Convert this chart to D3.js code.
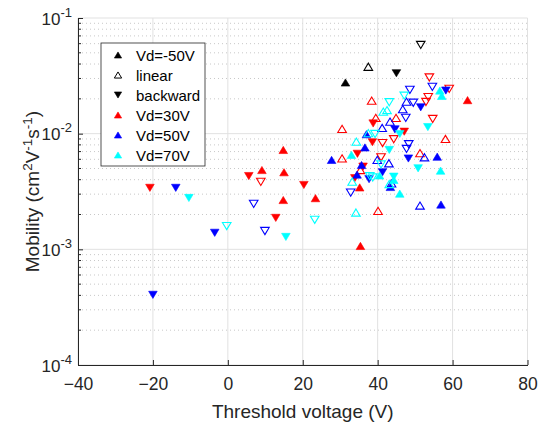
<!DOCTYPE html>
<html>
<head>
<meta charset="utf-8">
<script src="https://cdn.jsdelivr.net/npm/d3@7"></script>
<style>
  body { margin: 0; background: #fff; }
  svg { font-family: "Liberation Sans", Arial, Helvetica, sans-serif; }
</style>
</head>
<body>
<svg width="548" height="423"></svg>
<script>
"use strict";

// [threshold voltage (V), mobility (cm2/Vs)]
// fwd = filled up, lin = hollow up, bwd = filled down, linb = hollow down
const blackFwd  = [[31.4, 0.0277]];
const blackLin  = [[37.5, 0.0379]];
const blackBwd  = [[45.0, 0.0333]];
const blackLinb = [[51.5, 0.0585]];

const redFwd = [[9.1, 0.00485], [14.8, 0.00723], [15.0, 0.00464], [14.8, 0.00267],
  [23.4, 0.00277], [35.2, 0.00343], [35.4, 0.00107], [64.0, 0.0195]];
const redLin = [[30.5, 0.0110], [38.4, 0.0193], [39.5, 0.0137], [30.5, 0.00612], [35.4, 0.00485],
  [44.9, 0.0137], [51.3, 0.00678], [58.1, 0.0090], [40.1, 0.00215]];
const redBwd = [[-20.8, 0.0034], [5.6, 0.0043], [12.8, 0.00187], [20.3, 0.0036], [38.8, 0.01225],
  [38.6, 0.00843], [34.6, 0.0067], [36.1, 0.00519], [33.9, 0.00412], [47.1, 0.0104]];
const redLinb = [[8.8, 0.00383], [41.3, 0.0083], [44.3, 0.00895], [40.9, 0.00625], [53.8, 0.0306],
  [59.1, 0.0244], [53.5, 0.0207], [52.9, 0.0188], [54.7, 0.0134]];

const blueFwd = [[27.7, 0.00593], [37.0, 0.00989], [36.6, 0.0076], [35.7, 0.00536], [34.5, 0.00443],
  [43.4, 0.00346], [55.9, 0.00632], [56.9, 0.00244]];
const blueLin = [[41.2, 0.0112], [47.7, 0.0189], [46.7, 0.0163], [43.3, 0.0127], [39.9, 0.00593],
  [43.0, 0.00555], [52.5, 0.00625], [43.7, 0.00372], [51.3, 0.00239]];
const blueBwd = [[-13.9, 0.0034], [-3.5, 0.00139], [-20.0, 0.000404], [44.6, 0.0109], [51.5, 0.0169],
  [58.2, 0.0236], [48.2, 0.0061], [41.3, 0.00464], [37.7, 0.00404]];
const blueLinb = [[6.9, 0.00247], [9.9, 0.00144], [48.6, 0.0239], [54.6, 0.0254], [49.5, 0.0185],
  [47.5, 0.0137], [48.3, 0.0081], [47.7, 0.00738], [32.8, 0.00309]];

const cyanFwd = [[33.0, 0.00655], [56.6, 0.0236], [57.1, 0.0212], [56.8, 0.00479], [40.5, 0.00435],
  [44.3, 0.00398], [45.9, 0.00303]];
const cyanLin = [[34.3, 0.00853], [41.5, 0.0155], [42.5, 0.0160], [37.5, 0.0101], [33.2, 0.00385],
  [34.2, 0.00208], [43.1, 0.00367]];
const cyanBwd = [[-10.4, 0.00278], [15.5, 0.00128], [43.1, 0.00723], [45.9, 0.00993], [53.4, 0.0114],
  [50.8, 0.00502], [44.3, 0.00425]];
const cyanLinb = [[-0.3, 0.00159], [23.2, 0.0018], [43.1, 0.0187], [47.1, 0.0213], [39.3, 0.00993],
  [40.9, 0.00542], [37.9, 0.0043], [38.7, 0.00418]];

const xTicks = [-40, -20, 0, 20, 40, 60, 80];
const yExponents = [-4, -3, -2, -1];
const legendLabels = ["Vd=-50V", "linear", "backward", "Vd=30V", "Vd=50V", "Vd=70V"];

const BLACK = "#000000", RED = "#ff0000", BLUE = "#0000ff", CYAN = "#00ffff";
const axisColor = "#262626";

const series = [
  {data: blackFwd, color: BLACK, dir: "up", filled: true},
  {data: blackLin, color: BLACK, dir: "up", filled: false},
  {data: blackBwd, color: BLACK, dir: "down", filled: true},
  {data: blackLinb, color: BLACK, dir: "down", filled: false},
  {data: redFwd, color: RED, dir: "up", filled: true},
  {data: redLin, color: RED, dir: "up", filled: false},
  {data: redBwd, color: RED, dir: "down", filled: true},
  {data: redLinb, color: RED, dir: "down", filled: false},
  {data: blueFwd, color: BLUE, dir: "up", filled: true},
  {data: blueLin, color: BLUE, dir: "up", filled: false},
  {data: blueBwd, color: BLUE, dir: "down", filled: true},
  {data: blueLinb, color: BLUE, dir: "down", filled: false},
  {data: cyanFwd, color: CYAN, dir: "up", filled: true},
  {data: cyanLin, color: CYAN, dir: "up", filled: false},
  {data: cyanBwd, color: CYAN, dir: "down", filled: true},
  {data: cyanLinb, color: CYAN, dir: "down", filled: false}
];

const legendItems = [
  {color: BLACK, dir: "up", filled: true},
  {color: BLACK, dir: "up", filled: false},
  {color: BLACK, dir: "down", filled: true},
  {color: RED, dir: "up", filled: true},
  {color: BLUE, dir: "up", filled: true},
  {color: CYAN, dir: "up", filled: true}
];

const svg = d3.select("svg");

const mLeft = 78, mRight = 527.5, mTop = 18, mBottom = 365;

const x = d3.scaleLinear().domain([-40, 80]).range([mLeft, mRight]);
const y = d3.scaleLog().domain([1e-4, 1e-1]).range([mBottom, mTop]);

function tri(dir, s) {
  const w = 4.3 * s, h = 7.2 * s;
  return dir === "up"
    ? `M0,${-h / 2}L${w},${h / 2}L${-w},${h / 2}Z`
    : `M0,${h / 2}L${w},${-h / 2}L${-w},${-h / 2}Z`;
}

// minor grid (dotted)
const minorVals = [];
yExponents.slice(0, 3).forEach(e => {
  for (let m = 2; m <= 9; m++) minorVals.push(m * Math.pow(10, e));
});

svg.append("g").selectAll("line")
  .data(minorVals)
  .join("line")
  .attr("x1", mLeft).attr("x2", mRight)
  .attr("y1", d => y(d)).attr("y2", d => y(d))
  .attr("stroke", "#c8c8c8")
  .attr("stroke-width", 1)
  .attr("stroke-dasharray", "1,3");

// major grid
svg.append("g").selectAll("line")
  .data(xTicks)
  .join("line")
  .attr("x1", d => x(d)).attr("x2", d => x(d))
  .attr("y1", mTop).attr("y2", mBottom)
  .attr("stroke", "#e1e1e1");

svg.append("g").selectAll("line")
  .data(yExponents)
  .join("line")
  .attr("x1", mLeft).attr("x2", mRight)
  .attr("y1", d => y(Math.pow(10, d))).attr("y2", d => y(Math.pow(10, d)))
  .attr("stroke", "#e1e1e1");

// x axis
const xAxis = svg.append("g")
  .attr("transform", `translate(0,${mBottom})`)
  .call(d3.axisBottom(x).tickValues(xTicks).tickSizeInner(-5).tickSizeOuter(0).tickPadding(13));
xAxis.select(".domain").attr("stroke", axisColor);
xAxis.selectAll(".tick line").attr("stroke", axisColor);
xAxis.selectAll(".tick text")
  .attr("fill", axisColor)
  .style("font-size", "17.5px")
  .style("font-family", "Liberation Sans, Arial, sans-serif");

// y axis
const yAxis = svg.append("g")
  .attr("transform", `translate(${mLeft},0)`)
  .call(d3.axisLeft(y).tickValues(yExponents.map(e => Math.pow(10, e)))
    .tickSizeInner(-5).tickSizeOuter(0).tickPadding(6).tickFormat(""));
yAxis.select(".domain").attr("stroke", axisColor);
yAxis.selectAll(".tick line").attr("stroke", axisColor);

yAxis.selectAll(".tick text").remove();
yAxis.selectAll(".tick")
  .append("text")
  .attr("x", -6)
  .attr("y", 6)
  .attr("text-anchor", "end")
  .attr("fill", axisColor)
  .style("font-size", "17px")
  .style("font-family", "Liberation Sans, Arial, sans-serif")
  .each(function (d) {
    const t = d3.select(this);
    t.append("tspan").text("10");
    t.append("tspan").attr("dy", -8).style("font-size", "13px").text(String(Math.round(Math.log10(d))));
  });

// y minor ticks
svg.append("g").selectAll("line")
  .data(minorVals)
  .join("line")
  .attr("x1", mLeft).attr("x2", mLeft + 3)
  .attr("y1", d => y(d)).attr("y2", d => y(d))
  .attr("stroke", axisColor);

// axis labels
svg.append("text")
  .attr("x", (mLeft + mRight) / 2)
  .attr("y", 418)
  .attr("text-anchor", "middle")
  .attr("fill", axisColor)
  .style("font-size", "19px")
  .text("Threshold voltage (V)");

const yl = svg.append("text")
  .attr("transform", `translate(39,${(mTop + mBottom) / 2}) rotate(-90)`)
  .attr("text-anchor", "middle")
  .attr("fill", axisColor)
  .style("font-size", "19px");
yl.append("tspan").text("Mobility (cm");
yl.append("tspan").attr("dy", -7).style("font-size", "13.5px").text("2");
yl.append("tspan").attr("dy", 7).text("V");
yl.append("tspan").attr("dy", -7).style("font-size", "13.5px").text("-1");
yl.append("tspan").attr("dy", 7).text("s");
yl.append("tspan").attr("dy", -7).style("font-size", "13.5px").text("-1");
yl.append("tspan").attr("dy", 7).text(")");

// data markers
const marks = svg.append("g");
series.forEach(s => {
  marks.append("g").selectAll("path")
    .data(s.data)
    .join("path")
    .attr("transform", d => `translate(${x(d[0])},${y(d[1])})`)
    .attr("d", tri(s.dir, 1))
    .attr("fill", s.filled ? s.color : "none")
    .attr("stroke", s.color)
    .attr("stroke-width", s.filled ? 0.6 : 1.1);
});

// legend
const lg = svg.append("g").attr("transform", "translate(101,43)");
lg.append("rect")
  .attr("width", 104).attr("height", 123)
  .attr("fill", "#fff")
  .attr("stroke", axisColor)
  .attr("stroke-width", 0.8);

const items = lg.selectAll("g.item")
  .data(legendItems)
  .join("g")
  .attr("class", "item")
  .attr("transform", (d, i) => `translate(0,${12 + i * 20})`);

items.append("path")
  .attr("transform", "translate(17,0)")
  .attr("d", d => tri(d.dir, 0.85))
  .attr("fill", d => d.filled ? d.color : "none")
  .attr("stroke", d => d.color)
  .attr("stroke-width", d => d.filled ? 0.6 : 1);

items.append("text")
  .attr("x", 35)
  .attr("y", 5.5)
  .attr("fill", "#000")
  .style("font-size", "15px")
  .text((d, i) => legendLabels[i]);
</script>
</body>
</html>
